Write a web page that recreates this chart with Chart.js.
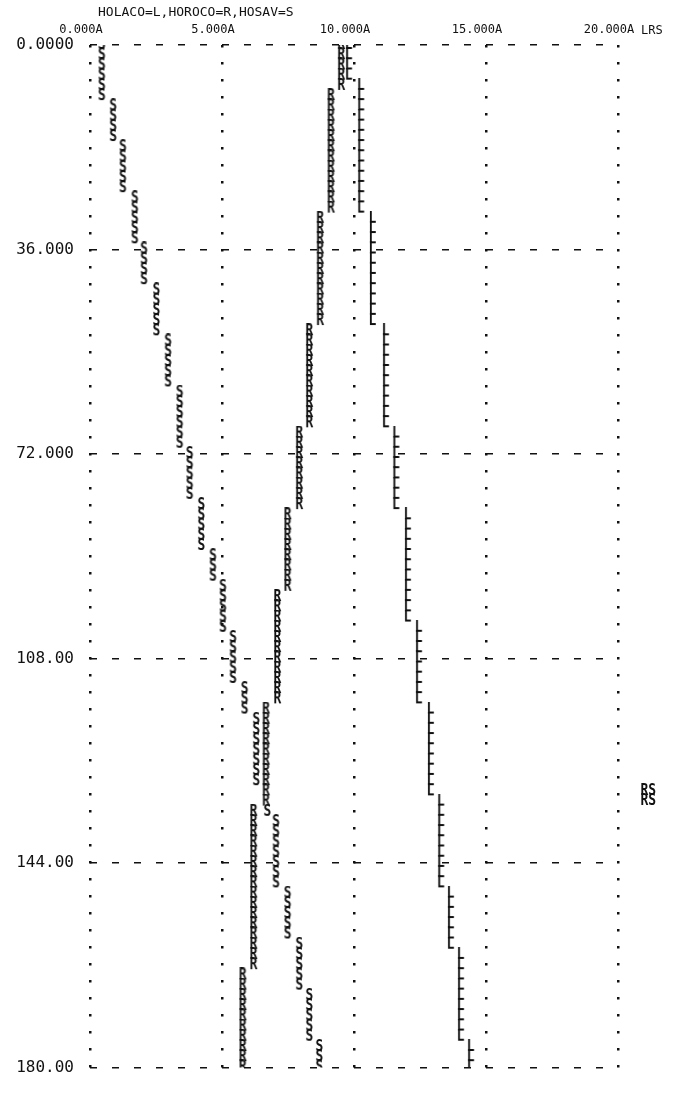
<!DOCTYPE html>
<html>
<head>
<meta charset="utf-8">
<script src="https://cdn.jsdelivr.net/npm/chart.js@4.4.0/dist/chart.umd.min.js"></script>
<style>
  html, body { margin: 0; background: #fff; }
  #wrap { width: 700px; height: 1093px; }
</style>
</head>
<body>
<div id="wrap"><canvas id="plot"></canvas></div>
<script>
// printer rows (depth), one per line of the listing
var depth = [
    0, 1.8, 3.6, 5.4, 7.2, 9, 10.8, 12.6, 14.4, 16.2,
    18, 19.8, 21.6, 23.4, 25.2, 27, 28.8, 30.6, 32.4, 34.2,
    36, 37.8, 39.6, 41.4, 43.2, 45, 46.8, 48.6, 50.4, 52.2,
    54, 55.8, 57.6, 59.4, 61.2, 63, 64.8, 66.6, 68.4, 70.2,
    72, 73.8, 75.6, 77.4, 79.2, 81, 82.8, 84.6, 86.4, 88.2,
    90, 91.8, 93.6, 95.4, 97.2, 99, 100.8, 102.6, 104.4, 106.2,
    108, 109.8, 111.6, 113.4, 115.2, 117, 118.8, 120.6, 122.4, 124.2,
    126, 127.8, 129.6, 131.4, 133.2, 135, 136.8, 138.6, 140.4, 142.2,
    144, 145.8, 147.6, 149.4, 151.2, 153, 154.8, 156.6, 158.4, 160.2,
    162, 163.8, 165.6, 167.4, 169.2, 171, 172.8, 174.6, 176.4, 178.2,
    180
];

// HOLACO = L
var holaco = [
    9.8, 9.8, 9.8, 9.8, 10.26, 10.26, 10.26, 10.26, 10.26, 10.26,
    10.26, 10.26, 10.26, 10.26, 10.26, 10.26, 10.26, 10.7, 10.7, 10.7,
    10.7, 10.7, 10.7, 10.7, 10.7, 10.7, 10.7, 10.7, 11.2, 11.2,
    11.2, 11.2, 11.2, 11.2, 11.2, 11.2, 11.2, 11.2, 11.59, 11.59,
    11.59, 11.59, 11.59, 11.59, 11.59, 11.59, 12.03, 12.03, 12.03, 12.03,
    12.03, 12.03, 12.03, 12.03, 12.03, 12.03, 12.03, 12.45, 12.45, 12.45,
    12.45, 12.45, 12.45, 12.45, 12.45, 12.9, 12.9, 12.9, 12.9, 12.9,
    12.9, 12.9, 12.9, 12.9, 13.29, 13.29, 13.29, 13.29, 13.29, 13.29,
    13.29, 13.29, 13.29, 13.66, 13.66, 13.66, 13.66, 13.66, 13.66, 14.04,
    14.04, 14.04, 14.04, 14.04, 14.04, 14.04, 14.04, 14.04, 14.42, 14.42,
    14.42
];

// HOROCO = R
var horoco = [
    9.52, 9.52, 9.52, 9.52, 9.52, 9.13, 9.13, 9.13, 9.13, 9.13,
    9.13, 9.13, 9.13, 9.13, 9.13, 9.13, 9.13, 8.72, 8.72, 8.72,
    8.72, 8.72, 8.72, 8.72, 8.72, 8.72, 8.72, 8.72, 8.31, 8.31,
    8.31, 8.31, 8.31, 8.31, 8.31, 8.31, 8.31, 8.31, 7.93, 7.93,
    7.93, 7.93, 7.93, 7.93, 7.93, 7.93, 7.49, 7.49, 7.49, 7.49,
    7.49, 7.49, 7.49, 7.49, 7.1, 7.1, 7.1, 7.1, 7.1, 7.1,
    7.1, 7.1, 7.1, 7.1, 7.1, 6.67, 6.67, 6.67, 6.67, 6.67,
    6.67, 6.67, 6.67, 6.67, 6.67, 6.2, 6.2, 6.2, 6.2, 6.2,
    6.2, 6.2, 6.2, 6.2, 6.2, 6.2, 6.2, 6.2, 6.2, 6.2,
    6.2, 5.79, 5.79, 5.79, 5.79, 5.79, 5.79, 5.79, 5.79, 5.79,
    5.79
];

// HOSAV = S  (null where the S falls under an R, listed in the margin)
var hosav = [
    0.45, 0.45, 0.45, 0.45, 0.45, 0.45, 0.88, 0.88, 0.88, 0.88,
    1.25, 1.25, 1.25, 1.25, 1.25, 1.7, 1.7, 1.7, 1.7, 1.7,
    2.05, 2.05, 2.05, 2.05, 2.52, 2.52, 2.52, 2.52, 2.52, 2.96,
    2.96, 2.96, 2.96, 2.96, 3.4, 3.4, 3.4, 3.4, 3.4, 3.4,
    3.78, 3.78, 3.78, 3.78, 3.78, 4.22, 4.22, 4.22, 4.22, 4.22,
    4.66, 4.66, 4.66, 5.04, 5.04, 5.04, 5.04, 5.04, 5.42, 5.42,
    5.42, 5.42, 5.42, 5.86, 5.86, 5.86, 6.3, 6.3, 6.3, 6.3,
    6.3, 6.3, 6.3, null, null, 6.72, 7.05, 7.05, 7.05, 7.05,
    7.05, 7.05, 7.05, 7.49, 7.49, 7.49, 7.49, 7.49, 7.93, 7.93,
    7.93, 7.93, 7.93, 8.31, 8.31, 8.31, 8.31, 8.31, 8.69, 8.69,
    8.69
];

// rows where two letters share a cell
var overlapDepth = [131.4, 133.2];
var overlapText = ['RS', 'RS'];

var xTicks = [0, 5, 10, 15, 20];
var xTickLabels = ['0.000A', '5.000A', '10.000A', '15.000A', '20.000A'];
var yTicks = [0, 36, 72, 108, 144, 180];
var yTickLabels = ['0.0000', '36.000', '72.000', '108.00', '144.00', '180.00'];

var ink = '#111';
var mono = '"DejaVu Sans Mono", "Liberation Mono", monospace';
var marginCol = 20.85;

// draws a printed character as a point image
function glyph(text) {
    var c = document.createElement('canvas');
    var w = 9 * text.length + 2, h = 16;
    c.width = w;
    c.height = h;
    var g = c.getContext('2d');
    g.fillStyle = ink;
    g.font = 'bold 13px ' + mono;
    g.textAlign = 'center';
    g.textBaseline = 'middle';
    g.setTransform(1, 0, 0, 1.15, w / 2, h / 2);
    g.fillText(text, 0, 0);
    return c;
}

function points(vals) {
    var out = [];
    for (var i = 0; i < depth.length; i++) {
        if (vals[i] !== null) out.push({ x: vals[i], y: depth[i] });
    }
    return out;
}

function series(label, vals, ch) {
    return {
        label: label,
        data: points(vals),
        showLine: false,
        pointStyle: glyph(ch),
        pointRadius: 5,
        pointHoverRadius: 5
    };
}

var printerText = {
    id: 'printerText',
    afterDraw: function (chart) {
        var ctx = chart.ctx;
        var xs = chart.scales.x, ys = chart.scales.y;
        ctx.save();
        ctx.fillStyle = ink;
        ctx.font = '13px ' + mono;
        ctx.textAlign = 'left';
        ctx.textBaseline = 'middle';
        ctx.fillText('HOLACO=L,HOROCO=R,HOSAV=S', 98, 13);
        ctx.font = '12px ' + mono;
        ctx.textBaseline = 'bottom';
        ctx.fillText('LRS', xs.getPixelForValue(20) + 23, chart.chartArea.top - 8);
        // margin listing of overprinted cells
        ctx.textBaseline = 'middle';
        ctx.font = 'bold 13px ' + mono;
        ctx.setTransform(1, 0, 0, 1.15, 0, 0);
        overlapText.forEach(function (t, i) {
            ctx.fillText(t, xs.getPixelForValue(marginCol), ys.getPixelForValue(overlapDepth[i]) / 1.15);
        });
        ctx.restore();
    }
};

new Chart(document.getElementById('plot'), {
    type: 'scatter',
    data: {
        datasets: [
            series('HOLACO', holaco, 'L'),
            series('HOROCO', horoco, 'R'),
            series('HOSAV', hosav, 'S')
        ]
    },
    options: {
        responsive: true,
        maintainAspectRatio: false,
        animation: false,
        events: [],
        layout: { padding: { top: 0, right: 82, bottom: 14, left: 0 } },
        plugins: {
            legend: { display: false },
            title: { display: false },
            tooltip: { enabled: false }
        },
        scales: {
            x: {
                type: 'linear',
                position: 'top',
                min: 0,
                max: 20,
                afterBuildTicks: function (s) {
                    s.ticks = xTicks.map(function (v) { return { value: v }; });
                },
                afterFit: function (s) { s.height = 45; },
                ticks: {
                    autoSkip: false,
                    maxRotation: 0,
                    padding: 8,
                    labelOffset: -9,
                    color: ink,
                    font: { family: mono, size: 12 },
                    callback: function (v, i) { return xTickLabels[i]; }
                },
                grid: { color: ink, lineWidth: 2.5, drawTicks: false },
                border: { display: false, dash: [2.5, 14.5] }
            },
            y: {
                type: 'linear',
                reverse: true,
                min: 0,
                max: 180,
                afterBuildTicks: function (s) {
                    s.ticks = yTicks.map(function (v) { return { value: v }; });
                },
                afterFit: function (s) { s.width = 90; },
                ticks: {
                    autoSkip: false,
                    padding: 16,
                    color: ink,
                    font: { family: mono, size: 16 },
                    callback: function (v, i) { return yTickLabels[i]; }
                },
                grid: { color: ink, lineWidth: 1.5, drawTicks: false },
                border: { display: false, dash: [7, 15] }
            }
        }
    },
    plugins: [printerText]
});
</script>
</body>
</html>
